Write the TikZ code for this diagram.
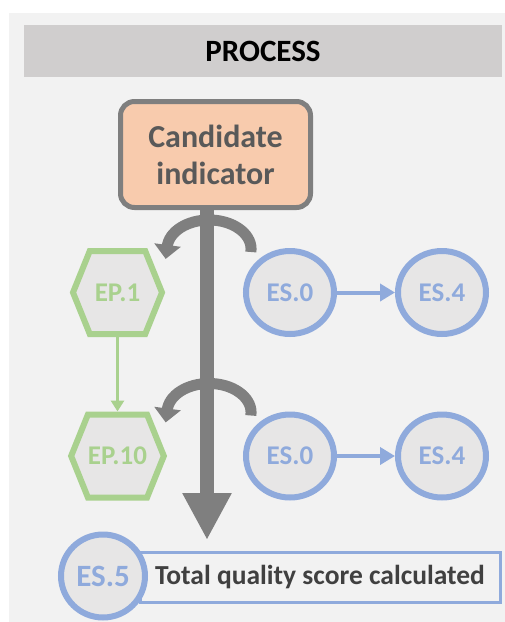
\documentclass[tikz,border=0pt]{standalone}
\usepackage{fontspec}
\setmainfont{Carlito}
\usetikzlibrary{arrows.meta,shapes.geometric,shapes.symbols}
\definecolor{panelgray}{HTML}{F2F2F2}
\definecolor{headgray}{HTML}{D0CECE}
\definecolor{candfill}{HTML}{F8CBAD}
\definecolor{arrowgray}{HTML}{7F7F7F}
\definecolor{textgray}{HTML}{595959}
\definecolor{darktext}{HTML}{404040}
\definecolor{epgreen}{HTML}{A9D18E}
\definecolor{esblue}{HTML}{8FAADC}
\definecolor{nodefill}{HTML}{E7E6E6}

\begin{document}
\begin{tikzpicture}[x=1pt, y=-1pt, every node/.style={inner sep=0pt},
    headbar/.style={fill=headgray, minimum width=478pt, minimum height=52pt, font=\fontsize{31}{36}\selectfont\bfseries},
    candbox/.style={draw=arrowgray, line width=5pt, fill=candfill, rounded corners=14pt, minimum width=190pt, minimum height=106pt, align=center, text=textgray, font=\fontsize{32}{37}\selectfont\bfseries},
    epnode/.style={signal, signal to=west and east, signal pointer angle=136, draw=epgreen, line width=6pt, fill=nodefill, text=epgreen, minimum width=89pt, minimum height=83pt, font=\fontsize{27}{30}\selectfont\bfseries},
    esnode/.style={ellipse, draw=esblue, line width=6pt, fill=nodefill, text=esblue, minimum width=88pt, minimum height=83pt, font=\fontsize{27}{30}\selectfont\bfseries},
    scorebox/.style={draw=esblue, line width=3pt, fill=panelgray, minimum width=360pt, minimum height=50pt, text=darktext, font=\fontsize{27.5}{32}\selectfont\bfseries},
    mainarrow/.style={draw=arrowgray, line width=14pt, -{Triangle[length=47pt, width=46pt]}},
    bendarrow/.style={draw=arrowgray, line width=11pt, -{Triangle[length=14pt, width=26pt]}},
    eparrow/.style={draw=epgreen, line width=3pt, -{Triangle[length=11pt, width=13pt]}},
    esarrow/.style={draw=esblue, line width=4pt, -{Triangle[length=15pt, width=17pt]}}]
    \useasboundingbox (0,0) rectangle (505,622);
    \fill[white] (0,0) rectangle (505,622);
    \fill[panelgray] (9,13) rectangle (505,622);

    \node[headbar] (head) at (263,51) {PROCESS};
    \node[candbox] (cand) at (215.5,154.5) {Candidate\\indicator};
    \coordinate (tip) at (207,540);

    \node[epnode] (ep1) at (117.5,292.5) {EP.1};
    \node[epnode] (ep10) at (117.5,456) {EP.10};
    \node[esnode] (es0a) at (290,292.5) {ES.0};
    \node[esnode] (es4a) at (442,292.5) {ES.4};
    \node[esnode] (es0b) at (290,456) {ES.0};
    \node[esnode] (es4b) at (442,456) {ES.4};

    \node[scorebox] (score) at (320,577) {Total quality score calculated};
    \node[esnode, minimum width=84pt, minimum height=83pt, font=\fontsize{31}{34}\selectfont\bfseries] (es5) at (103,576) {ES.5};

    \path[mainarrow] (cand.south -| tip) -- (tip);
    \path[bendarrow] ([xshift=-4pt,yshift=11pt]es0a.140) arc[start angle=6, end angle=-170, x radius=42, y radius=29] -- ++(-2,15);
    \path[bendarrow] ([xshift=-4pt,yshift=11pt]es0b.140) arc[start angle=6, end angle=-170, x radius=42, y radius=29] -- ++(-2,15);
    \path[eparrow] (ep1.south) -- (ep10.north);
    \path[esarrow] (es0a) -- (es4a);
    \path[esarrow] (es0b) -- (es4b);
\end{tikzpicture}
\end{document}
